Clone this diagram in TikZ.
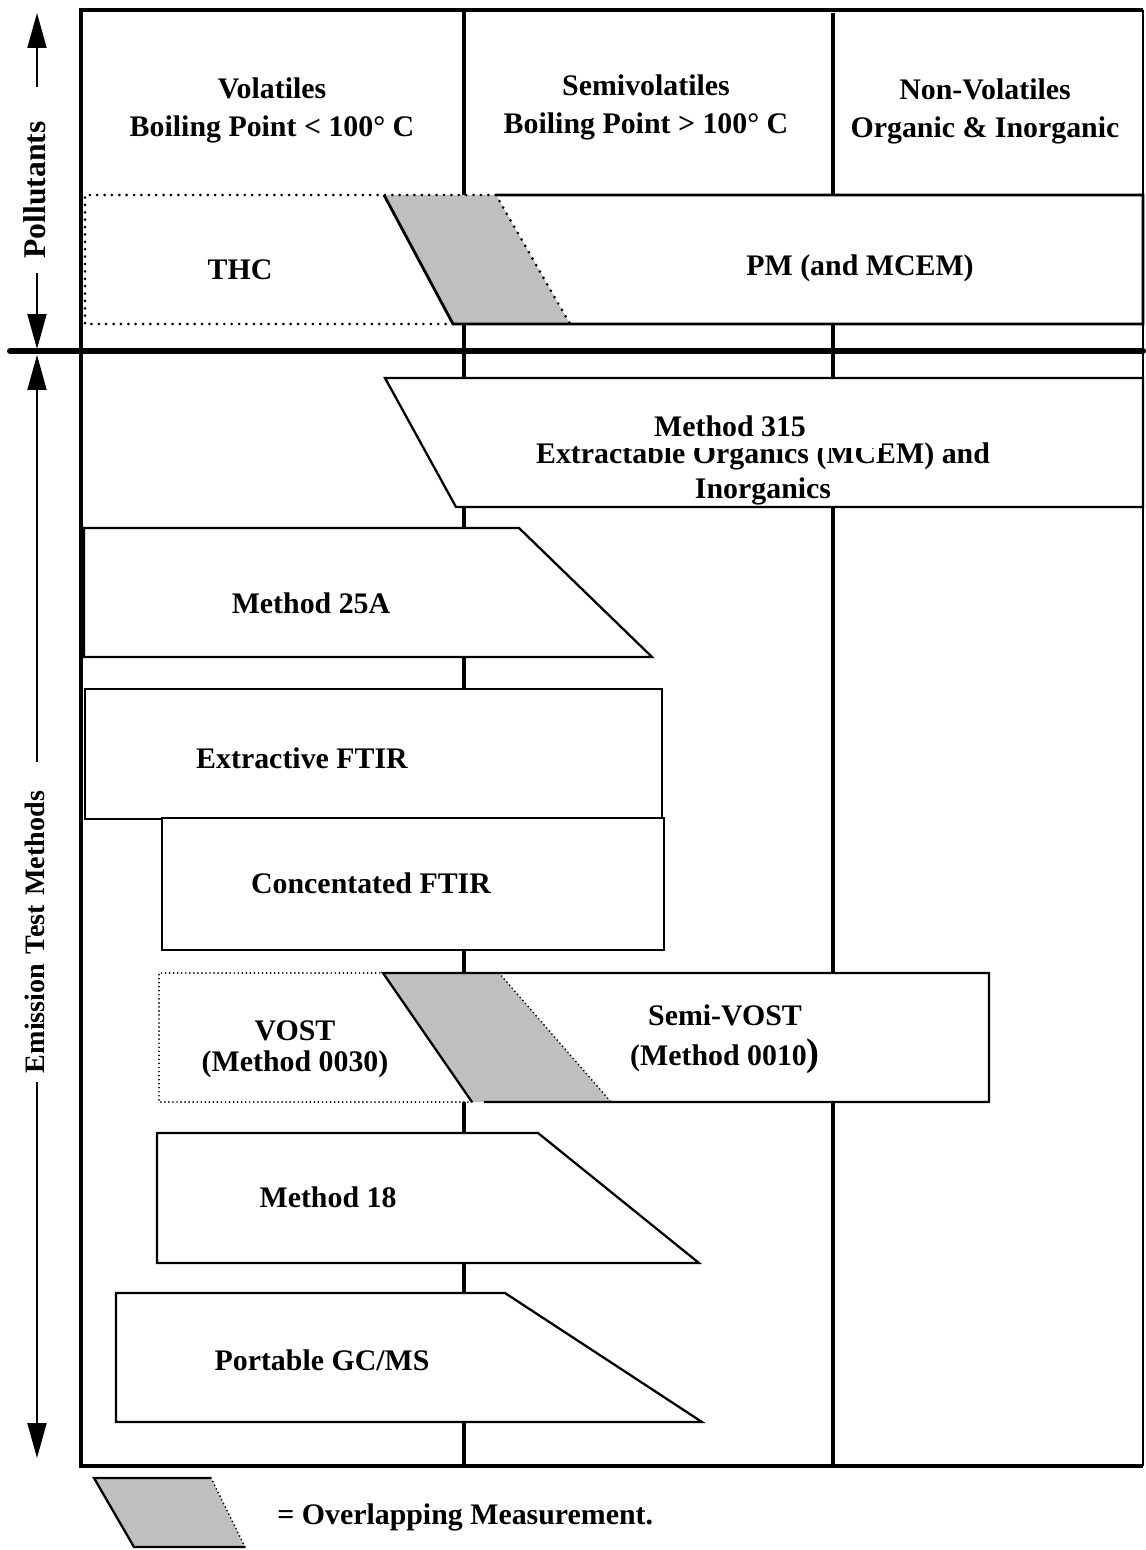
\documentclass[tikz,border=0pt]{standalone}
\usepackage{fontspec}
\setmainfont{Liberation Serif}
\usetikzlibrary{arrows.meta}

\begin{document}
\begin{tikzpicture}[x=0.02cm, y=-0.02cm,
    lbl/.style={font=\fontsize{17}{21.6}\selectfont\bfseries, align=center, inner sep=0pt},
    box/.style={draw, line width=1.3pt, fill=white, line join=miter},
    dotline/.style={line width=1.7pt, line cap=round, dash pattern=on 0pt off 4.2pt},
    finedots/.style={line width=1.1pt, line cap=round, dash pattern=on 0pt off 2.3pt},
    overlap/.style={fill=black!25},
    divider/.style={line width=2.3pt},
    axis/.style={line width=1.1pt, -{Triangle[length=0.7cm, width=0.38cm]}}]

    \useasboundingbox (0,0) rectangle (1145,1550);

    % Column dividers (hidden under the boxes)
    \draw[divider] (464,8) -- (464,1466);
    \draw[divider] (833,13) -- (833,1466);

    % Header row
    \node[lbl] (volHead) at (272,110) {Volatiles\\Boiling Point < 100° C};
    \node[lbl] (semiHead) at (646,107) {Semivolatiles\\Boiling Point > 100° C};
    \node[lbl] (nonvolHead) at (985,111) {Non-Volatiles\\Organic \& Inorganic};

    % THC and PM (and MCEM)
    \fill[white] (85,195) rectangle (1143,324);
    \fill[overlap] (384,195) -- (496,195) -- (570,324) -- (453,324) -- cycle;
    \draw[line width=1.6pt] (496,195) -- (1143,195) -- (1143,324) -- (453,324) -- (384,195);
    \draw[dotline] (453,324) -- (85,324) -- (85,195) -- (496,195) -- (570,324);
    \node[lbl] (thc) at (240,270) {THC};
    \node[lbl] (pm) at (860,268) {PM (and MCEM)};

    % Method 315
    \draw[box] (385,378) -- (1143,378) -- (1143,507) -- (456,507) -- cycle;
    \node[lbl, font=\fontsize{17}{20.4}\selectfont\bfseries] (m315txt) at (763,474)
        {Extractable Organics (MCEM) and\\Inorganics};
    \node[lbl, fill=white, minimum width=6.1cm, text depth=0.22cm, anchor=base]
        (m315) at (730,437) {Method 315};

    % Methods for volatiles
    \draw[box] (84,528) -- (519,528) -- (652,657) -- (84,657) -- cycle;
    \node[lbl] (m25a) at (311,603) {Method 25A};

    \draw[box] (85,689) rectangle (662,819);
    \node[lbl] (ftirX) at (302,758) {Extractive FTIR};

    \draw[box] (162,818) rectangle (664,950);
    \node[lbl] (ftirC) at (371,883) {Concentated FTIR};

    % VOST and Semi-VOST
    \fill[white] (159,973) rectangle (989,1102);
    \fill[overlap] (383,973) -- (499,973) -- (611,1102) -- (472,1102) -- cycle;
    \draw[line width=1.3pt] (472,1102) -- (383,973) -- (989,973) -- (989,1102) -- (484,1102);
    \draw[finedots] (472,1102) -- (159,1102) -- (159,973) -- (383,973);
    \draw[finedots] (499,973) -- (611,1102);
    \node[lbl, font=\fontsize{17}{17.6}\selectfont\bfseries] (vost) at (295,1049)
        {VOST\\(Method 0030)};
    \node[lbl, font=\fontsize{17}{22.7}\selectfont\bfseries] (semivost) at (725,1039)
        {Semi-VOST\\(Method 0010{\fontsize{22}{22}\selectfont)}};

    \draw[box] (157,1133) -- (538,1133) -- (699,1263) -- (157,1263) -- cycle;
    \node[lbl] (m18) at (328,1197) {Method 18};

    \draw[box] (116,1293) -- (505,1293) -- (702,1422) -- (116,1422) -- cycle;
    \node[lbl] (gcms) at (322,1360) {Portable GC/MS};

    % Outer frame
    \draw[line width=1.2pt] (1143,10) -- (1143,1466);
    \draw[line width=2.7pt] (1143,10) -- (81,10) -- (81,1466) -- (1143,1466);
    \draw[line width=3.4pt, line cap=round] (10,351) -- (1143,351);

    % Side labels with arrows
    \coordinate (pUp) at (37,13);
    \coordinate (pUpS) at (37,87);
    \coordinate (pDn) at (37,349);
    \coordinate (pDnS) at (37,273);
    \coordinate (eUp) at (37,355);
    \coordinate (eUpS) at (37,762);
    \coordinate (eDn) at (37,1458);
    \coordinate (eDnS) at (37,1082);
    \draw[axis] (pUpS) -- (pUp);
    \draw[axis] (pDnS) -- (pDn);
    \draw[axis] (eUpS) -- (eUp);
    \draw[axis] (eDnS) -- (eDn);
    \node[lbl, rotate=90, font=\fontsize{18}{20}\selectfont\bfseries] (pollut) at (35,190) {Pollutants};
    \node[lbl, rotate=90, font=\fontsize{16}{20}\selectfont\bfseries] (emiss) at (35,932) {Emission\hspace{0.05cm} Test\hspace{0.05cm} Methods};

    % Legend
    \fill[overlap] (94,1478) -- (211,1478) -- (245,1547) -- (134,1547) -- cycle;
    \draw[line width=1.3pt] (211,1478) -- (94,1478) -- (134,1547) -- (245,1547);
    \draw[finedots] (211,1478) -- (245,1547);
    \node[lbl, anchor=west] (legendTxt) at (277,1517) {= Overlapping Measurement.};
\end{tikzpicture}
\end{document}
